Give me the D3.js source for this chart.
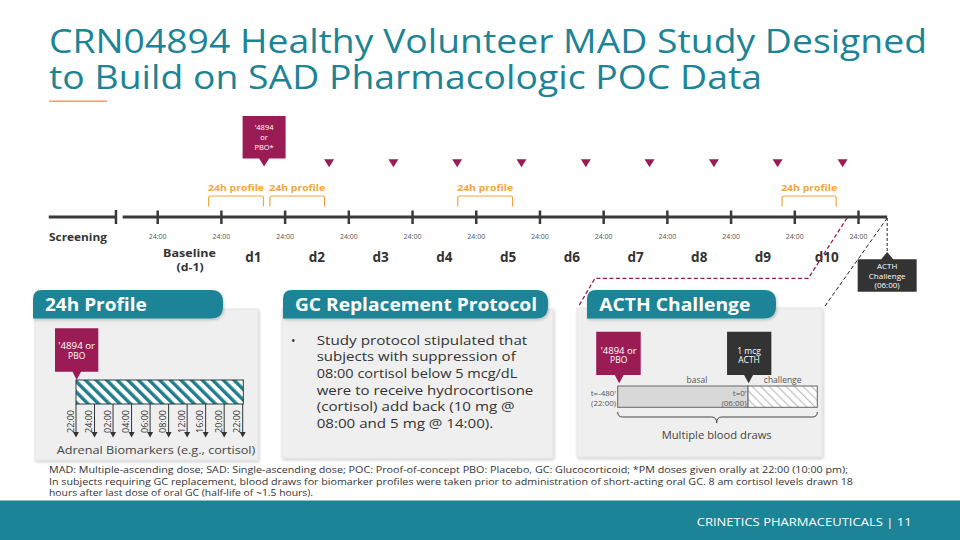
<!DOCTYPE html>
<html><head><meta charset="utf-8">
<script src="https://cdn.jsdelivr.net/npm/d3@7"></script>
<style>body{margin:0;background:#fff}svg{display:block}text{font-family:'Open Sans',sans-serif}</style>
</head><body><svg id="c" width="960" height="540"></svg>
<script>
// ---------- data ----------
const titleLines = ["CRN04894 Healthy Volunteer MAD Study Designed", "to Build on SAD Pharmacologic POC Data"];
const dayTicks = [0,1,2,3,4,5,6,7,8,9,10,11];          // 24:00 marks, in days
const tickLabel = "24:00";
const dayNames = ["Baseline","d1","d2","d3","d4","d5","d6","d7","d8","d9","d10"];
const screening = [-1.71, -0.655];
const mainLine = [-0.55, 11.45];
const firstDose = 1.67;
const doseDays = [2.69, 3.70, 4.70, 5.71, 6.72, 7.72, 8.73, 9.73, 10.75];
const profileStart = [0.80, 1.76, 4.71, 9.80];
const profileEnd   = [1.66, 2.62, 5.57, 10.65];
const acthDay = 11.45;
const profileTimes = ["22:00","24:00","02:00","04:00","06:00","08:00","12:00","16:00","20:00","22:00"];
const acthPhase = ["basal","challenge"];
const acthStart = [-480, 0];
const acthEnd = [0, 255];
const gcLines = ["Study protocol stipulated that","subjects with suppression of","08:00 cortisol below 5 mcg/dL","were to receive hydrocortisone","(cortisol) add back (10 mg @","08:00 and 5 mg @ 14:00)."];
const gcWidths = [210.6, 199, 200.6, 216.6, 198, 176.6];
const footnotes = ["MAD: Multiple-ascending dose; SAD: Single-ascending dose; POC: Proof-of-concept PBO: Placebo, GC: Glucocorticoid; *PM doses given orally at 22:00 (10:00 pm);",
  "In subjects requiring GC replacement, blood draws for biomarker profiles were taken prior to administration of short-acting oral GC.  8 am cortisol levels drawn 18",
  "hours after last dose of oral GC (half-life of ~1.5 hours)."];

// ---------- style ----------
const TEAL = "#1c8496", PINK = "#9b1c55", ORANGE = "#f2a541", DARK = "#333333", LINE = "#3a3a3a";

const svg = d3.select("#c");
const defs = svg.append("defs");
const f = defs.append("filter").attr("id","sh").attr("x","-10%").attr("y","-10%").attr("width","130%").attr("height","130%");
f.append("feDropShadow").attr("dx",1).attr("dy",1.5).attr("stdDeviation",1.5).attr("flood-color","#000").attr("flood-opacity",0.22);
const p1 = defs.append("pattern").attr("id","hatchTeal").attr("patternUnits","userSpaceOnUse")
  .attr("width",7.5).attr("height",7.5).attr("patternTransform","rotate(-45)");
p1.append("rect").attr("width",7.5).attr("height",7.5).attr("fill","#fff");
p1.append("rect").attr("width",3.4).attr("height",7.5).attr("fill","#1f7d8c");
const p2 = defs.append("pattern").attr("id","hatchGray").attr("patternUnits","userSpaceOnUse")
  .attr("width",6).attr("height",6).attr("patternTransform","rotate(-45)");
p2.append("rect").attr("width",6).attr("height",6).attr("fill","#fff");
p2.append("rect").attr("width",1.3).attr("height",6).attr("fill","#c4c4c4");

function txt(g, s, x, y, o) {
  o = o || {};
  const t = g.append("text").attr("x", x).attr("y", y).text(s)
    .attr("font-size", o.size || 10).attr("fill", o.fill || DARK)
    .attr("font-weight", o.weight || 400).attr("text-anchor", o.anchor || "start");
  if (o.len) t.attr("textLength", o.len).attr("lengthAdjust", "spacingAndGlyphs");
  return t;
}

// ---------- title ----------
txt(svg, titleLines[0], 49, 52.5, {size: 32, fill: TEAL, len: 878});
txt(svg, titleLines[1], 49, 89, {size: 32, fill: TEAL, len: 713});
svg.append("rect").attr("x",49).attr("y",100.5).attr("width",58).attr("height",1.5).attr("fill",ORANGE);

// ---------- timeline ----------
const x = d3.scaleLinear().domain([0, 11]).range([157.7, 858.5]);
const TY = 217;
const tl = svg.append("g");
tl.append("line").attr("x1", x(screening[0])).attr("x2", x(screening[1])).attr("y1",TY).attr("y2",TY)
  .attr("stroke",LINE).attr("stroke-width",3);
tl.append("line").attr("x1", x(screening[1])).attr("x2", x(screening[1])).attr("y1",TY-7).attr("y2",TY+7)
  .attr("stroke",LINE).attr("stroke-width",2.5);
tl.append("line").attr("x1", x(mainLine[0])).attr("x2", x(mainLine[1])).attr("y1",TY).attr("y2",TY)
  .attr("stroke",LINE).attr("stroke-width",3);
tl.selectAll(".tk").data(dayTicks).join("line").attr("class","tk")
  .attr("x1", d => x(d)).attr("x2", d => x(d)).attr("y1", TY-6.5).attr("y2", TY+7)
  .attr("stroke", LINE).attr("stroke-width", 2.5);
tl.selectAll(".tl").data(dayTicks).join("text").attr("class","tl")
  .attr("x", d => x(d)).attr("y", 239).attr("text-anchor","middle")
  .attr("font-size", 7).attr("fill","#555").text(tickLabel);
txt(tl, "Screening", 49, 240.5, {size: 11, weight: 700, len: 58});

dayNames.forEach((n, i) => {
  const cx = x(i + 0.5);
  if (n === "Baseline") {
    txt(tl, "Baseline", cx, 256.5, {size: 11, weight: 700, anchor: "middle", len: 53});
    txt(tl, "(d-1)", cx + 0.5, 270.5, {size: 11, weight: 700, anchor: "middle", len: 27});
  } else {
    txt(tl, n, cx, 261.5, {size: 13.5, weight: 700, anchor: "middle"});
  }
});

// dose markers
tl.selectAll(".dose").data(doseDays).join("path").attr("class","dose")
  .attr("d", d => `M${x(d)-5},159.3 L${x(d)+5},159.3 L${x(d)},167.3 Z`).attr("fill", PINK);
// first dose callout
{
  const cx = x(firstDose);
  tl.append("path").attr("d", `M${cx-21.5},116 H${cx+21.5} V158.5 H${cx+5} L${cx},166.5 L${cx-5},158.5 H${cx-21.5} Z`).attr("fill", PINK);
  txt(tl, "'4894", cx, 130, {size: 7.5, fill: "#fff", anchor: "middle"});
  txt(tl, "or", cx, 140, {size: 7.5, fill: "#fff", anchor: "middle"});
  txt(tl, "PBO*", cx, 150, {size: 7.5, fill: "#fff", anchor: "middle"});
}
// 24h profile brackets
profileStart.forEach((s, i) => {
  const a = x(s), b = x(profileEnd[i]);
  tl.append("path").attr("d", `M${a},206.5 V198 Q${a},196 ${a+2},196 H${b-2} Q${b},196 ${b},198 V206.5`)
    .attr("fill","none").attr("stroke", ORANGE).attr("stroke-width", 1.2);
  txt(tl, "24h profile", (a + b) / 2, 191, {size: 9.5, weight: 700, fill: ORANGE, anchor: "middle", len: 56});
});

// ACTH challenge callout
{
  const cx = x(acthDay);
  tl.append("line").attr("x1",cx).attr("x2",cx).attr("y1",TY+1).attr("y2",252)
    .attr("stroke","#222").attr("stroke-width",1).attr("stroke-dasharray","3,2");
  tl.append("path").attr("d", `M${cx-29.5},259.3 H${cx-6} L${cx},252 L${cx+6},259.3 H${cx+29.5} V291.7 H${cx-29.5} Z`).attr("fill", DARK);
  txt(tl, "ACTH", cx, 268.7, {size: 8, fill: "#fff", anchor: "middle"});
  txt(tl, "Challenge", cx, 278.5, {size: 8, fill: "#fff", anchor: "middle"});
  txt(tl, "(06:00)", cx, 288, {size: 8, fill: "#fff", anchor: "middle"});
  // connectors to ACTH panel
  tl.append("path").attr("d", `M${cx},${TY+1} L825,306`).attr("fill","none")
    .attr("stroke","#222").attr("stroke-width",1).attr("stroke-dasharray","4,2.5");
  tl.append("path").attr("d", `M${x(10.82)},${TY+1} L808.3,278.3 H595 L578.3,306.7`).attr("fill","none")
    .attr("stroke", PINK).attr("stroke-width",1.3).attr("stroke-dasharray","4,2.5");
}

// ---------- panels ----------
function panel(px, py, pw, ph, tx, tw) {
  const g = svg.append("g");
  g.append("rect").attr("x",px).attr("y",py).attr("width",pw).attr("height",ph)
    .attr("fill","#efefef").attr("stroke","#e2e2e2").attr("stroke-width",0.8).attr("filter","url(#sh)");
  const y0 = 290, h = 28.5, r1 = 9, r2 = 12;
  g.append("path").attr("d",
    `M${tx},${y0+h} V${y0+r1} Q${tx},${y0} ${tx+r1},${y0} H${tx+tw-r2} Q${tx+tw},${y0} ${tx+tw},${y0+r2} V${y0+h-r2} Q${tx+tw},${y0+h} ${tx+tw-r2},${y0+h} Z`)
    .attr("fill", TEAL).attr("filter","url(#sh)");
  return g;
}
const g1 = panel(35, 309, 223, 151, 33, 190);
txt(g1, "24h Profile", 45, 311, {size: 17, weight: 700, fill: "#fff", len: 101.7});
const g2 = panel(282, 309, 271, 149, 283, 265);
txt(g2, "GC Replacement Protocol", 295, 311, {size: 17, weight: 700, fill: "#fff", len: 242});
const g3 = panel(577, 308, 245, 149, 587, 189);
txt(g3, "ACTH Challenge", 599.3, 311, {size: 17, weight: 700, fill: "#fff", len: 151});

// ---------- 24h profile panel ----------
const sx = d3.scalePoint().domain(d3.range(profileTimes.length)).range([76, 242.7]);
{
  const bx0 = sx(0), bx1 = sx(profileTimes.length - 1) + 0.6;
  g1.append("path").attr("d", `M55,328.3 H98.3 V371.7 H${bx0+5} L${bx0+0.7},380 L${bx0-3.5},371.7 H55 Z`).attr("fill", PINK);
  txt(g1, "'4894 or", 76.7, 349, {size: 8.5, fill: "#fff", anchor: "middle", len: 36.7});
  txt(g1, "PBO", 76.7, 358.5, {size: 8.5, fill: "#fff", anchor: "middle"});
  g1.append("rect").attr("x", bx0).attr("y", 380).attr("width", bx1 - bx0).attr("height", 24)
    .attr("fill","url(#hatchTeal)").attr("stroke","#2b3d40").attr("stroke-width",1);
  const ar = g1.selectAll(".ar").data(profileTimes).join("g").attr("class","ar");
  ar.append("line").attr("x1",(d,i)=>sx(i)).attr("x2",(d,i)=>sx(i)).attr("y1",404).attr("y2",433)
    .attr("stroke","#333").attr("stroke-width",1);
  ar.append("path").attr("d",(d,i)=>`M${sx(i)-3},432 L${sx(i)+3},432 L${sx(i)},437.5 Z`).attr("fill","#333");
  ar.append("text").attr("transform",(d,i)=>`translate(${sx(i)-2.5},433) rotate(-90)`)
    .attr("font-size",8.5).attr("fill","#333").text(d=>d).attr("textLength",23).attr("lengthAdjust","spacingAndGlyphs");
  txt(g1, "Adrenal Biomarkers (e.g., cortisol)", 156, 453.5, {size: 11, fill: "#444", anchor: "middle", len: 198.6});
}

// ---------- GC panel ----------
txt(g2, "•", 291, 344.5, {size: 12, fill: "#333"});
gcLines.forEach((s, i) => {
  txt(g2, s, 316.7, 344.5 + i * 16.7, {size: 13, fill: "#333", len: gcWidths[i]});
});

// ---------- ACTH panel ----------
const ax = d3.scaleLinear().domain([-480, 255]).range([617.7, 817.3]);
{
  const by = 386, bh = 21.3;
  acthPhase.forEach((p, i) => {
    g3.append("rect").attr("x", ax(acthStart[i])).attr("y", by).attr("width", ax(acthEnd[i]) - ax(acthStart[i])).attr("height", bh)
      .attr("fill", i === 0 ? "#d8d8d8" : "url(#hatchGray)").attr("stroke", "#666").attr("stroke-width", 1);
    txt(g3, p, (ax(acthStart[i]) + ax(acthEnd[i])) / 2 + (i === 0 ? 14 : 0), 383, {size: 8.5, fill: "#555", anchor: "middle"});
  });
  const a0 = ax(-480), a1 = ax(0);
  g3.append("path").attr("d", `M${a0-21.5},331.7 H${a0+23} V375 H${a0+6} L${a0+1.5},383.3 L${a0-3},375 H${a0-21.5} Z`).attr("fill", PINK);
  txt(g3, "'4894 or", a0 + 1, 353.7, {size: 8.5, fill: "#fff", anchor: "middle", len: 36});
  txt(g3, "PBO", a0 + 1, 363, {size: 8.5, fill: "#fff", anchor: "middle"});
  g3.append("path").attr("d", `M${a1-21},331.7 H${a1+23.3} V375 H${a1+5} L${a1+0.6},383.3 L${a1-4},375 H${a1-21} Z`).attr("fill", DARK);
  txt(g3, "1 mcg", a1 + 1, 353.7, {size: 8.5, fill: "#fff", anchor: "middle"});
  txt(g3, "ACTH", a1 + 1, 363, {size: 8.5, fill: "#fff", anchor: "middle"});
  txt(g3, "t=-480'", a0 - 1.5, 396, {size: 8, fill: "#555", anchor: "end"});
  txt(g3, "(22:00)", a0 - 1.5, 406, {size: 8, fill: "#555", anchor: "end"});
  txt(g3, "t=0'", a1 - 1.5, 396, {size: 8, fill: "#555", anchor: "end"});
  txt(g3, "(06:00)", a1 - 1.5, 406, {size: 8, fill: "#555", anchor: "end"});
  const b0 = ax(-480), b1 = ax(255), bm = 716.7, yt = 412, yb = 423;
  g3.append("path").attr("d",
    `M${b0},${yt} Q${b0},${yt+5} ${b0+5},${yt+5} H${bm-5} Q${bm},${yt+5} ${bm},${yb} Q${bm},${yt+5} ${bm+5},${yt+5} H${b1-5} Q${b1},${yt+5} ${b1},${yt}`)
    .attr("fill","none").attr("stroke","#444").attr("stroke-width",1);
  txt(g3, "Multiple blood draws", bm, 438.5, {size: 10, fill: "#444", anchor: "middle", len: 110});
}

// ---------- footnotes ----------
txt(svg, footnotes[0], 49, 473, {size: 8.8, fill: "#333", len: 799});
txt(svg, footnotes[1], 49, 484.5, {size: 8.8, fill: "#333", len: 804});
txt(svg, footnotes[2], 49, 496, {size: 8.8, fill: "#333", len: 264});

// ---------- footer ----------
svg.append("rect").attr("x",0).attr("y",500.5).attr("width",960).attr("height",40).attr("fill", TEAL);
txt(svg, "CRINETICS PHARMACEUTICALS  |  11", 911.7, 525.5, {size: 11, fill: "#fff", anchor: "end", len: 215});
</script></body></html>
